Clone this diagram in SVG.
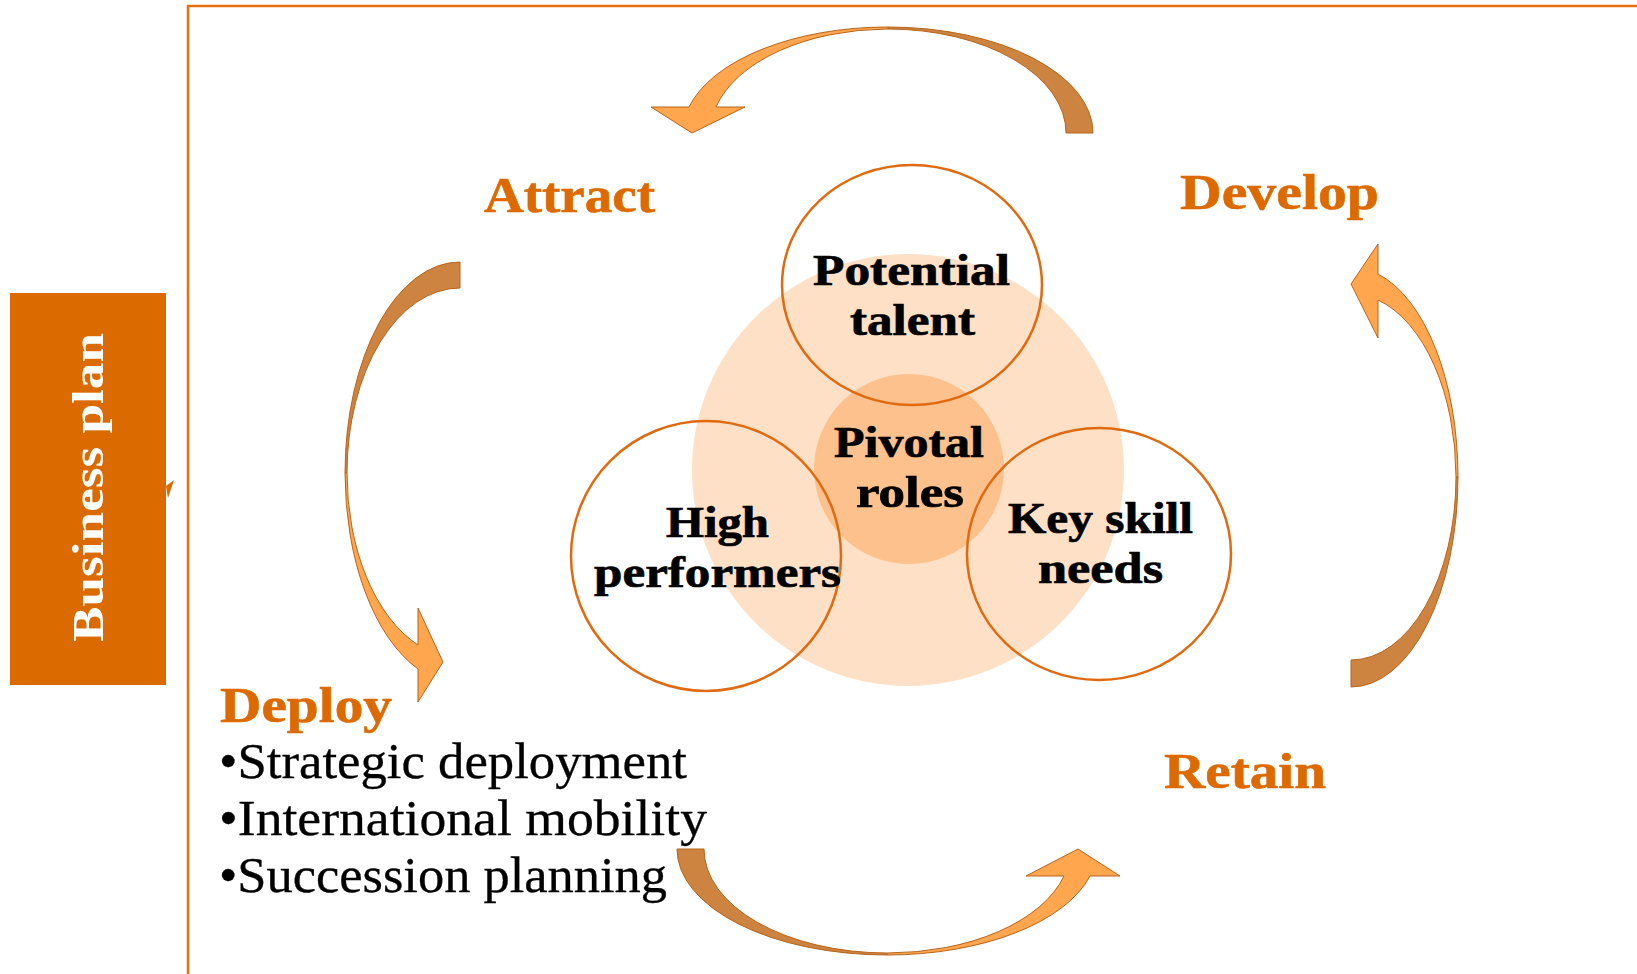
<svg xmlns="http://www.w3.org/2000/svg" width="1637" height="974" viewBox="0 0 1637 974">
  <style>
    .frame { fill: none; stroke: #E5700F; stroke-width: 2.5; }
    .ring { fill: none; stroke: #E06A10; stroke-width: 2.5; }
    .stage { font-family: "Liberation Serif", "Times New Roman", serif; font-weight: bold; font-size: 50px; fill: #DD6A00; stroke: #DD6A00; stroke-width: 0.6; }
    .core { font-family: "Liberation Serif", "Times New Roman", serif; font-weight: bold; font-size: 44px; fill: #000; stroke: #000; stroke-width: 0.7; text-anchor: middle; }
    .bullet { font-family: "Liberation Serif", "Times New Roman", serif; font-size: 50px; fill: #000; stroke: #000; stroke-width: 0.3; }
    .side { font-family: "Liberation Serif", "Times New Roman", serif; font-weight: bold; font-size: 45px; fill: #fff; text-anchor: middle; }
    .front { fill: #FFA64F; stroke: #B8631A; stroke-width: 1; stroke-linejoin: round; }
    .back { fill: #CD8440; stroke: #B8631A; stroke-width: 1; stroke-linejoin: round; }
  </style>

  <!-- outer frame -->
  <path class="frame" d="M188,974 L188,6 L1637,6"/>

  <!-- side tab -->
  <g id="business-plan">
    <rect x="10" y="293" width="156" height="392" fill="#DB6A00"/>
    <text class="side" transform="translate(103,487.5) rotate(-90)" textLength="309" lengthAdjust="spacingAndGlyphs">Business plan</text>
  </g>

  <!-- overlapping talent circles -->
  <g id="talent-pool">
    <circle cx="908" cy="470" r="216" fill="#FDE0C5"/>
  </g>
  <g id="pivotal-roles">
    <circle cx="909" cy="469" r="95" fill="#FCC18C"/>
  </g>
  <g id="potential-talent">
    <ellipse class="ring" cx="912" cy="285" rx="130" ry="120"/>
  </g>
  <g id="high-performers">
    <ellipse class="ring" cx="706" cy="556" rx="135" ry="135"/>
  </g>
  <g id="key-skill-needs">
    <ellipse class="ring" cx="1099" cy="554" rx="132" ry="126"/>
  </g>

  <g id="labels-core">
    <text class="core" x="911.5" y="285" textLength="197" lengthAdjust="spacingAndGlyphs">Potential</text>
    <text class="core" x="912.5" y="335" textLength="125" lengthAdjust="spacingAndGlyphs">talent</text>
    <text class="core" x="909" y="457" textLength="150" lengthAdjust="spacingAndGlyphs">Pivotal</text>
    <text class="core" x="910" y="507" textLength="108" lengthAdjust="spacingAndGlyphs">roles</text>
    <text class="core" x="717.5" y="537" textLength="103" lengthAdjust="spacingAndGlyphs">High</text>
    <text class="core" x="717.5" y="587" textLength="247" lengthAdjust="spacingAndGlyphs">performers</text>
    <text class="core" x="1100.5" y="533" textLength="185" lengthAdjust="spacingAndGlyphs">Key skill</text>
    <text class="core" x="1100.5" y="583" textLength="125" lengthAdjust="spacingAndGlyphs">needs</text>
  </g>

  <!-- cycle stages -->
  <g id="attract">
    <text class="stage" x="484" y="212" textLength="171" lengthAdjust="spacingAndGlyphs">Attract</text>
  </g>
  <g id="develop">
    <text class="stage" x="1180" y="209" textLength="199" lengthAdjust="spacingAndGlyphs">Develop</text>
  </g>
  <g id="retain">
    <text class="stage" x="1164" y="788" textLength="162" lengthAdjust="spacingAndGlyphs">Retain</text>
  </g>
  <g id="deploy">
    <text class="stage" x="220" y="722" textLength="172" lengthAdjust="spacingAndGlyphs">Deploy</text>
    <text class="bullet" x="219" y="778" textLength="468" lengthAdjust="spacingAndGlyphs">•Strategic deployment</text>
    <text class="bullet" x="219" y="835" textLength="488" lengthAdjust="spacingAndGlyphs">•International mobility</text>
    <text class="bullet" x="219" y="892" textLength="448" lengthAdjust="spacingAndGlyphs">•Succession planning</text>
  </g>

  <!-- curved ribbon arrows between stages -->
  <g id="connectors">
    <!-- Develop to Attract (top) -->
    <path class="back" d="M1093,133 A205,106 0 0 0 888,27 L888,29 A178,104 0 0 1 1066,133 Z"/>
    <path class="front" d="M888,27 A205,106 0 0 0 689,107 L651,107 L692,133 L745,107 L716,107 A178,104 0 0 1 888,29 Z"/>
    <!-- Attract to Deploy (left) -->
    <path class="back" d="M460,262 A115,211 0 0 0 345,473 L347,473 A113,185 0 0 1 460,288 Z"/>
    <path class="front" d="M345,473 A115,211 0 0 0 418,669 L418,702 L443,662 L418,608 L418,645 A113,185 0 0 1 347,473 Z"/>
    <!-- Deploy to Retain (bottom) -->
    <path class="back" d="M677,849 A210,106 0 0 0 887,955 L887,953 A183,104 0 0 1 704,849 Z"/>
    <path class="front" d="M887,955 A210,106 0 0 0 1090,876 L1120,876 L1078,849 L1026,876 L1064,876 A183,104 0 0 1 887,953 Z"/>
    <!-- Retain to Develop (right) -->
    <path class="back" d="M1351,687 A107,210 0 0 0 1458,477 L1456,477 A105,183 0 0 1 1351,660 Z"/>
    <path class="front" d="M1458,477 A107,210 0 0 0 1378,274 L1378,244 L1351,284 L1378,338 L1378,300 A105,183 0 0 1 1456,477 Z"/>
    <!-- small pointer at the side tab -->
    <polygon points="166,486 174,480 168,498" fill="#DB6A00"/>
  </g>
</svg>
